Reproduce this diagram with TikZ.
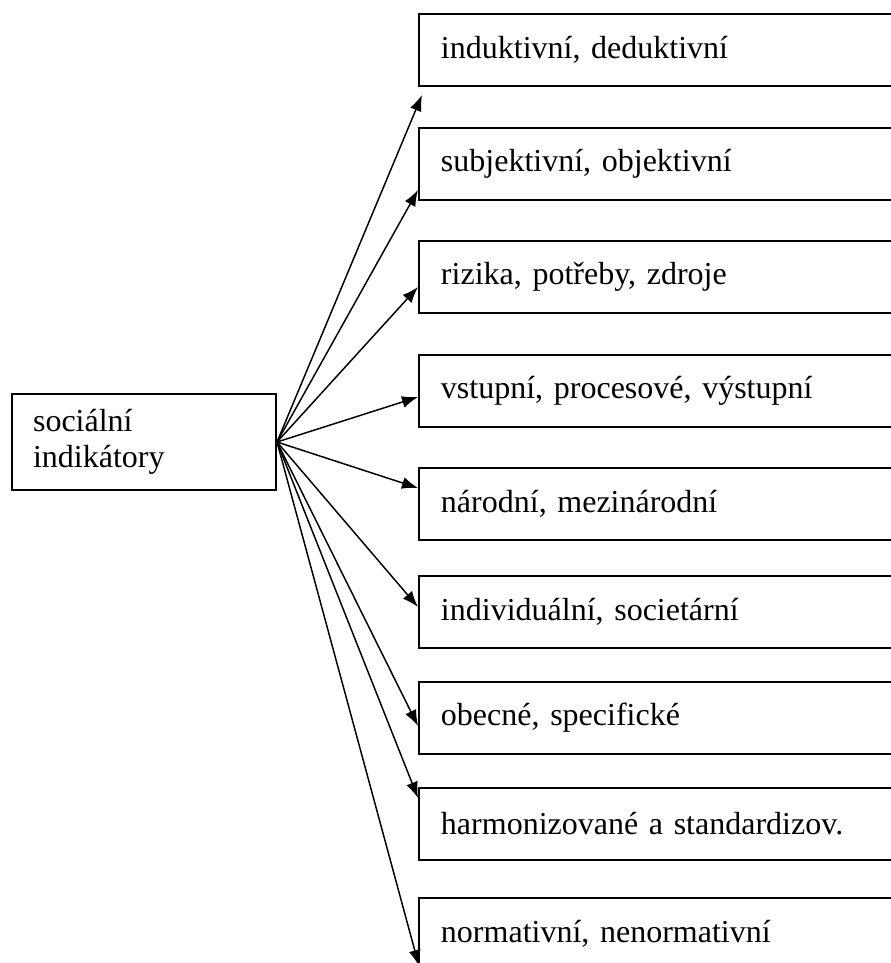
\documentclass[tikz,border=0pt]{standalone}
\usepackage{fontspec}
\setmainfont{Liberation Serif}
\usetikzlibrary{arrows.meta}

\tikzset{
  box/.style={draw, line width=0.75pt, rectangle, anchor=north west,
    minimum height=27pt, inner xsep=8.25pt, inner ysep=0.5pt,
    text width=170pt, align=left, font=\fontsize{12}{13.8}\selectfont},
  root/.style={draw, line width=0.75pt, rectangle, anchor=north west,
    minimum height=36pt, inner xsep=7.9pt, inner ysep=0.5pt,
    text width=83.2pt, align=left, font=\fontsize{12}{13.5}\selectfont},
  link/.style={line width=0.55pt, -{Latex[length=6pt,width=4.5pt]}}
}

\begin{document}
\begin{tikzpicture}[x=0.375pt, y=-0.375pt]

\clip (0,0) rectangle (891,963);

% root
\node[root] (s) at (11,393) {sociální\\indikátory};

% categories
\node[box] (v1) at (418,13) {induktivní, deduktivní};
\node[box] (v2) at (418,127) {subjektivní, objektivní};
\node[box] (v3) at (418,240) {rizika, potřeby, zdroje};
\node[box] (v4) at (418,354) {vstupní, procesové, výstupní};
\node[box] (v5) at (418,467) {národní, mezinárodní};
\node[box] (v6) at (418,575) {individuální, societární};
\node[box] (v7) at (418,681) {obecné, specifické};
\node[box] (v8) at (418,787) {harmonizované a standardizov.};
\node[box] (v9) at (418,897) {normativní, nenormativní};

% arrow tips
\coordinate (e1) at (422,95);
\coordinate (e2) at (418,190);
\coordinate (e3) at (418,287);
\coordinate (e4) at (418,397);
\coordinate (e5) at (418,488);
\coordinate (e6) at (418,607);
\coordinate (e7) at (418,726);
\coordinate (e8) at (418,798);
\coordinate (e9) at (419,966);

\foreach \i in {1,...,9}
  \draw[link] (s.east) -- (e\i);

\end{tikzpicture}
\end{document}
